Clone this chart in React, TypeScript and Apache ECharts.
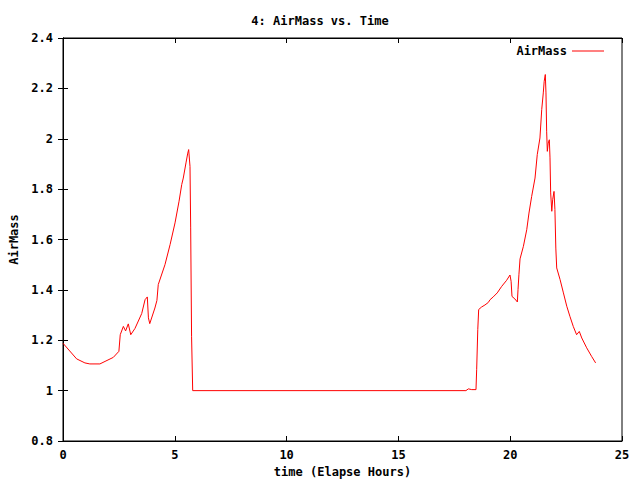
import React, { useEffect, useRef } from "react";
import * as echarts from "echarts";

const times: number[] = [
  0.0, 0.61, 0.98, 1.2, 1.65, 1.88, 2.25, 2.5, 2.56, 2.7, 2.8, 2.92, 3.03, 3.22, 3.52, 3.67, 3.77, 3.82, 3.88,
  4.11, 4.2, 4.26, 4.56, 4.79, 5.01, 5.19, 5.31, 5.38, 5.5, 5.58, 5.62, 5.68, 5.71, 5.75, 5.8,
  18.02, 18.13, 18.28, 18.47, 18.5, 18.55, 18.59, 18.72, 18.87, 19.02, 19.1, 19.24, 19.42, 19.62, 19.84, 19.99,
  20.04, 20.08, 20.21, 20.32, 20.35, 20.39, 20.44, 20.59, 20.74, 20.84, 20.96, 21.11, 21.21, 21.33, 21.41, 21.48,
  21.52, 21.57, 21.6, 21.63, 21.66, 21.7, 21.75, 21.78, 21.81, 21.86, 21.9, 21.96, 22.0, 22.04, 22.08, 22.23,
  22.38, 22.53, 22.67, 22.82, 22.97, 23.09, 23.2, 23.42, 23.64, 23.82,
];
const airMass: number[] = [
  1.188, 1.126, 1.11, 1.106, 1.106, 1.116, 1.132, 1.156, 1.222, 1.255, 1.237, 1.265, 1.222, 1.247, 1.306, 1.361, 1.372, 1.289, 1.266,
  1.328, 1.358, 1.421, 1.5, 1.58, 1.666, 1.752, 1.818, 1.844, 1.904, 1.943, 1.957, 1.89, 1.646, 1.216, 1.0,
  1.0, 1.007, 1.004, 1.004, 1.083, 1.242, 1.322, 1.332, 1.34, 1.35, 1.361, 1.372, 1.388, 1.414, 1.438, 1.459,
  1.434, 1.374, 1.364, 1.352, 1.401, 1.46, 1.523, 1.573, 1.639, 1.705, 1.771, 1.844, 1.937, 2.003, 2.116, 2.182,
  2.228, 2.255, 2.182, 2.03, 1.95, 1.983, 1.996, 1.924, 1.785, 1.712, 1.758, 1.791, 1.719, 1.566, 1.487, 1.441,
  1.388, 1.335, 1.295, 1.255, 1.222, 1.235, 1.209, 1.17, 1.136, 1.11,
];

const title = "4: AirMass vs. Time";
const xName = "time (Elapse Hours)";
const yName = "AirMass";
const seriesName = "AirMass";

const FONT = "'DejaVu Sans Mono', monospace";

export default function App() {
  const ref = useRef<HTMLDivElement>(null);
  useEffect(() => {
    if (!ref.current) return;
    const chart = echarts.init(ref.current, null, { renderer: "svg" });
    const data = times.map((t, i) => [t, airMass[i]]);
    const txt = { fontFamily: FONT, fontWeight: "bold" as const, fontSize: 12, color: "#000" };
    const axisCommon = {
      axisLine: { show: true, lineStyle: { color: "#000", width: 1 } },
      axisTick: { show: true, inside: true, length: 5, lineStyle: { color: "#000" } },
      splitLine: { show: false },
    };
    chart.setOption({
      animation: false,
      backgroundColor: "#fff",
      title: {
        text: title,
        left: "center",
        top: 10,
        textStyle: { ...txt },
      },
      legend: {
        right: 31,
        top: 40,
        align: "right",
        icon: "rect",
        itemWidth: 32,
        itemHeight: 1,
        textStyle: { ...txt },
        data: [{ name: seriesName, itemStyle: { color: "#ff0000" } }],
      },
      grid: {
        left: 63,
        right: 18,
        top: 38,
        bottom: 39,
        show: true,
        borderColor: "#000",
        borderWidth: 1,
        containLabel: false,
        outerBoundsMode: "none",
      },
      xAxis: [
        {
          type: "value",
          min: 0,
          max: 25,
          interval: 5,
          name: xName,
          nameLocation: "middle",
          nameGap: 24,
          nameTextStyle: { ...txt },
          axisLabel: { ...txt, margin: 8 },
          ...axisCommon,
        },
        {
          type: "value",
          position: "top",
          min: 0,
          max: 25,
          interval: 5,
          axisLabel: { show: false },
          ...axisCommon,
        },
      ],
      yAxis: [
        {
          type: "value",
          min: 0.8,
          max: 2.4,
          interval: 0.2,
          name: yName,
          nameLocation: "middle",
          nameGap: 41,
          nameRotate: 90,
          nameTextStyle: { ...txt },
          axisLabel: { ...txt, margin: 10, formatter: (v: number) => String(Math.round(v * 10) / 10) },
          ...axisCommon,
        },
        {
          type: "value",
          position: "right",
          min: 0.8,
          max: 2.4,
          interval: 0.2,
          axisLabel: { show: false },
          ...axisCommon,
        },
      ],
      series: [
        {
          name: seriesName,
          type: "line",
          data,
          showSymbol: false,
          symbol: "none",
          lineStyle: { color: "#ff0000", width: 1 },
          itemStyle: { color: "#ff0000" },
        },
      ],
    });
    return () => chart.dispose();
  }, []);
  return <div ref={ref} style={{ position: "fixed", left: 0, top: 0, width: 640, height: 480 }} />;
}
